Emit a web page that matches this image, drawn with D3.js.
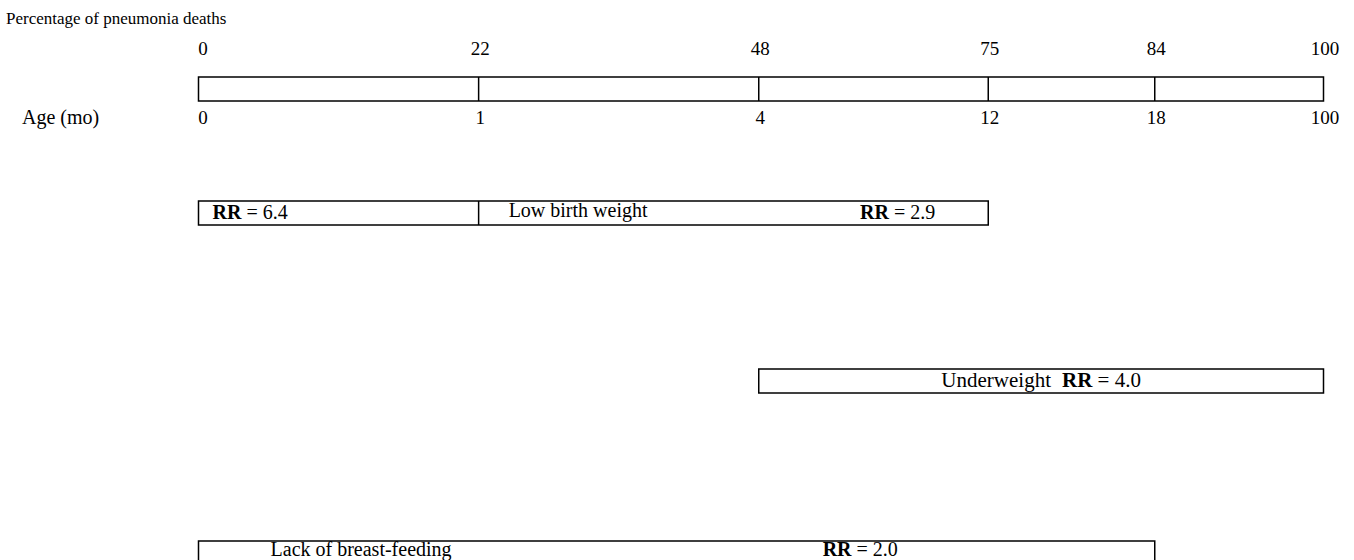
<!DOCTYPE html>
<html>
<head>
<meta charset="utf-8">
<script src="https://cdn.jsdelivr.net/npm/d3@7/dist/d3.min.js"></script>
<style>
  html, body { margin: 0; padding: 0; background: #fff; }
  svg { display: block; }
  text { font-family: "Liberation Serif", "DejaVu Serif", serif; fill: #000; }
</style>
</head>
<body>
<svg id="chart" width="1354" height="560"></svg>
<script>
// ---------- DATA ----------
const ageBoundaries = [0, 1, 4, 12, 18, 100];          // months
const percentDeaths = [0, 22, 48, 75, 84, 100];        // cumulative % of pneumonia deaths
const riskNames = ["Low birth weight", "Underweight", "Lack of breast-feeding"];
const riskStart = [0, 4, 0];                           // age (mo)
const riskEnd = [12, 100, 18];                         // age (mo)
const riskSplit = [1, null, null];                     // internal divider (age)
const riskRR = [["6.4", "2.9"], ["4.0"], ["2.0"]];

// ---------- LAYOUT ----------
const left = 198.5, right = 1323.5;
const segFractions = [0, 0.249, 0.498, 0.702, 0.850, 1];
const titleSize = 17, tickSize = 19, labelSize = 20;
const boxTop = 77, boxH = 24;
const rowTops = [201, 369, 541];
const rowH = 24;

const svg = d3.select("#chart");

const x = d3.scaleLinear()
  .domain(ageBoundaries)
  .range(segFractions.map(f => left + f * (right - left)));

// Title
svg.append("text")
  .attr("x", 6).attr("y", 24)
  .attr("font-size", titleSize)
  .text("Percentage of pneumonia deaths");

// Top axis: percentages
const pctAxis = d3.axisTop(x)
  .tickValues(ageBoundaries)
  .tickSize(0)
  .tickPadding(0)
  .tickFormat((d, i) => percentDeaths[i]);
const gTop = svg.append("g").attr("transform", `translate(0, 55)`).call(pctAxis);
gTop.select(".domain").remove();
gTop.selectAll("text")
  .attr("font-family", "Liberation Serif, serif")
  .attr("font-size", tickSize)
  .attr("dy", 0)
  .attr("dx", (d, i) => i === 0 ? 4 : 1);

// Age box
svg.append("rect")
  .attr("x", x(ageBoundaries[0])).attr("y", boxTop)
  .attr("width", x(ageBoundaries[ageBoundaries.length - 1]) - x(ageBoundaries[0]))
  .attr("height", boxH)
  .attr("fill", "none").attr("stroke", "#000").attr("stroke-width", 1.5);
svg.selectAll(".divider")
  .data(ageBoundaries.slice(1, -1))
  .join("line")
  .attr("x1", d => x(d)).attr("x2", d => x(d))
  .attr("y1", boxTop).attr("y2", boxTop + boxH)
  .attr("stroke", "#000").attr("stroke-width", 1.5);

// Bottom axis: age
const ageAxis = d3.axisBottom(x)
  .tickValues(ageBoundaries)
  .tickSize(0)
  .tickPadding(0)
  .tickFormat(d => d);
const gBot = svg.append("g").attr("transform", `translate(0, 124)`).call(ageAxis);
gBot.select(".domain").remove();
gBot.selectAll("text")
  .attr("font-family", "Liberation Serif, serif")
  .attr("font-size", tickSize)
  .attr("dy", 0)
  .attr("dx", (d, i) => i === 0 ? 4 : 1);

svg.append("text")
  .attr("x", 22).attr("y", 124)
  .attr("font-size", 20)
  .text("Age (mo)");

// Risk bars
function rrText(sel, val, dx) {
  const t = sel.append("tspan").attr("font-weight", "bold").text("RR");
  if (dx) t.attr("dx", dx);
  sel.append("tspan").text(" = " + val);
}

riskNames.forEach((name, i) => {
  const top = rowTops[i];
  const x0 = x(riskStart[i]), x1 = x(riskEnd[i]);
  svg.append("rect")
    .attr("x", x0).attr("y", top)
    .attr("width", x1 - x0).attr("height", rowH)
    .attr("fill", "none").attr("stroke", "#000").attr("stroke-width", 1.5);
  if (riskSplit[i] != null) {
    const xs = x(riskSplit[i]);
    svg.append("line")
      .attr("x1", xs).attr("x2", xs)
      .attr("y1", top).attr("y2", top + rowH)
      .attr("stroke", "#000").attr("stroke-width", 1.5);
  }
});

// Low birth weight labels
{
  const i = 0, top = rowTops[i], base = top + rowH / 2 + 6;
  const t1 = svg.append("text").attr("x", x(riskStart[i]) + 14).attr("y", base).attr("font-size", labelSize);
  rrText(t1, riskRR[i][0]);
  svg.append("text").attr("x", x(riskSplit[i]) + 30).attr("y", base - 2).attr("font-size", labelSize).text(riskNames[i]);
  const t2 = svg.append("text").attr("x", x(riskEnd[i]) - 53).attr("y", base).attr("font-size", labelSize).attr("text-anchor", "end");
  rrText(t2, riskRR[i][1]);
}
// Underweight label
{
  const i = 1, top = rowTops[i], base = top + rowH / 2 + 6;
  const t = svg.append("text")
    .attr("x", (x(riskStart[i]) + x(riskEnd[i])) / 2)
    .attr("y", base).attr("font-size", 21).attr("text-anchor", "middle");
  t.append("tspan").text(riskNames[i]);
  rrText(t, riskRR[i][0], 11);
}
// Lack of breast-feeding labels
{
  const i = 2, top = rowTops[i], base = 556;
  const x0 = x(riskStart[i]), x1 = x(riskEnd[i]);
  svg.append("text").attr("x", x0 + 0.170 * (x1 - x0)).attr("y", base).attr("font-size", labelSize)
    .attr("text-anchor", "middle").text(riskNames[i]);
  const t = svg.append("text").attr("x", x0 + 0.692 * (x1 - x0)).attr("y", base).attr("font-size", labelSize)
    .attr("text-anchor", "middle");
  rrText(t, riskRR[i][0]);
}
</script>
</body>
</html>
